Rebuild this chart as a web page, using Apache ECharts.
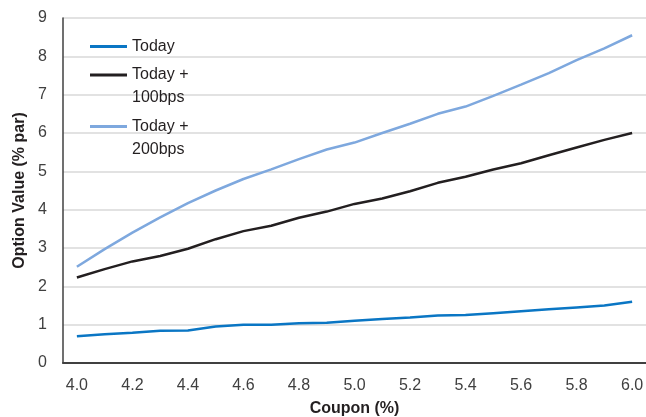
<!DOCTYPE html>
<html>
<head>
<meta charset="utf-8">
<script src="https://cdn.jsdelivr.net/npm/echarts@6/dist/echarts.min.js"></script>
<style>
html,body{margin:0;padding:0;background:#fff;}
#chart{width:646px;height:417px;}
</style>
</head>
<body>
<div id="chart"></div>
<script>
var coupons = ['4.0','4.1','4.2','4.3','4.4','4.5','4.6','4.7','4.8','4.9','5.0','5.1','5.2','5.3','5.4','5.5','5.6','5.7','5.8','5.9','6.0'];
var today = [0.70,0.75,0.79,0.84,0.85,0.95,1.00,1.00,1.04,1.05,1.10,1.15,1.19,1.24,1.25,1.30,1.35,1.40,1.45,1.50,1.60];
var today100 = [2.23,2.45,2.65,2.79,2.98,3.23,3.44,3.58,3.79,3.95,4.15,4.29,4.48,4.70,4.86,5.05,5.21,5.42,5.62,5.82,6.00];
var today200 = [2.51,2.97,3.40,3.80,4.17,4.50,4.80,5.05,5.32,5.57,5.75,6.00,6.24,6.50,6.69,6.97,7.26,7.56,7.90,8.21,8.55];
var seriesNames = ['Today','Today +\n100bps','Today +\n200bps'];
var yTicks = {min:0, max:9, interval:1};

var FONT = 'Liberation Sans';
var chart = echarts.init(document.getElementById('chart'), null, {renderer:'canvas'});
var colors = ['#0A76C4','#231F20','#7EA8DE'];
chart.setOption({
  animation:false,
  backgroundColor:'#ffffff',
  grid:{left:63, right:0, top:18, bottom:54, containLabel:false, outerBoundsMode:'none'},
  legend:{
    orient:'vertical', left:90, top:35, padding:0, itemGap:-17.5,
    icon:'rect', itemWidth:37, itemHeight:3,
    textStyle:{fontFamily:FONT, fontSize:16, color:'#231F20', lineHeight:23},
    formatter:function(name){ return name.indexOf('\n') >= 0 ? '\n' + name : name; },
    data:seriesNames
  },
  xAxis:{
    type:'category', data:coupons, boundaryGap:true,
    name:'Coupon (%)', nameLocation:'middle', nameGap:38,
    nameTextStyle:{fontFamily:FONT, fontSize:16, fontWeight:'bold', color:'#231F20'},
    axisLine:{lineStyle:{color:'#404040', width:2}},
    axisTick:{show:false},
    axisLabel:{interval:1, margin:15, fontFamily:FONT, fontSize:16, color:'#404040'},
    splitLine:{show:false}
  },
  yAxis:{
    type:'value', min:yTicks.min, max:yTicks.max, interval:yTicks.interval,
    name:'Option Value (% par)', nameLocation:'middle', nameGap:34,
    nameTextStyle:{fontFamily:FONT, fontSize:16, fontWeight:'bold', color:'#231F20'},
    axisLine:{show:true, lineStyle:{color:'#404040', width:1.5}},
    axisTick:{show:false},
    axisLabel:{margin:16, fontFamily:FONT, fontSize:16, color:'#404040'},
    splitLine:{lineStyle:{color:'#D9D9D9', width:1.5}}
  },
  series:[
    {name:seriesNames[0], type:'line', data:today, showSymbol:false, symbol:'none', lineStyle:{color:colors[0], width:2.5}, itemStyle:{color:colors[0]}},
    {name:seriesNames[1], type:'line', data:today100, showSymbol:false, symbol:'none', lineStyle:{color:colors[1], width:2.5}, itemStyle:{color:colors[1]}},
    {name:seriesNames[2], type:'line', data:today200, showSymbol:false, symbol:'none', lineStyle:{color:colors[2], width:2.5}, itemStyle:{color:colors[2]}}
  ]
});
</script>
</body>
</html>
